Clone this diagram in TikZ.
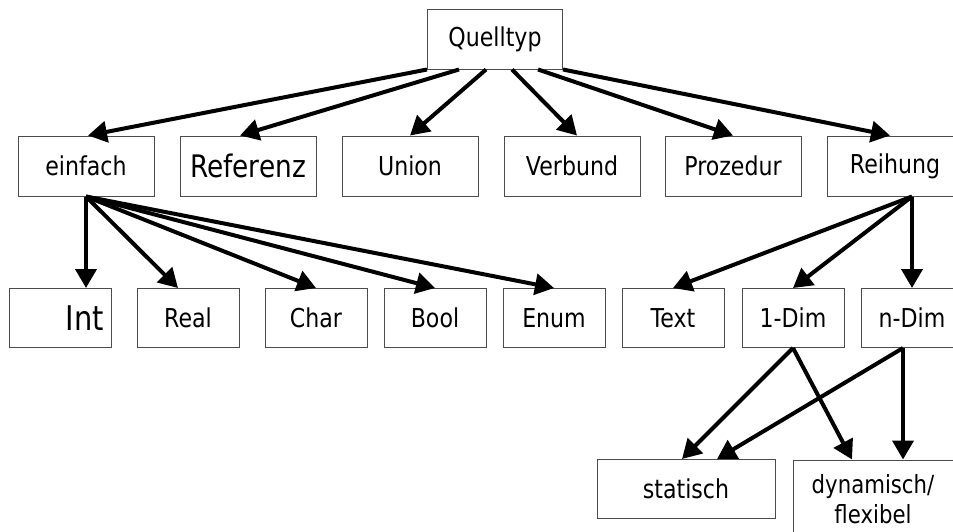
\documentclass[tikz,border=0pt]{standalone}
\usepackage{fontspec}
\setmainfont{DejaVu Sans}[FakeStretch=0.85]
\usetikzlibrary{arrows.meta}

\begin{document}
\begin{tikzpicture}[x=1pt,y=-1pt,
    box/.style={draw=black!70,line width=1pt,minimum width=136pt,minimum height=60pt,
      inner sep=0pt,font=\fontsize{26}{30}\selectfont},
    klein/.style={box,minimum width=102pt,minimum height=59pt},
    pfeil/.style={line width=4pt,-{Triangle[length=19pt,width=21pt]}}]
  \useasboundingbox (0,0) rectangle (953,531);
  \node [box,minimum width=135pt] (quell) at (495,39) {Quelltyp};
  \node [box] (einfach) at (86,166) {einfach};
  \node [box,font=\fontsize{31}{34}\selectfont] (referenz) at (248,166) {Referenz};
  \node [box] (union) at (410,166) {Union};
  \node [box] (verbund) at (572,166) {Verbund};
  \node [box] (prozedur) at (733,166) {Prozedur};
  \node [box] (reihung) at (895,166) {Reihung};
  \node [klein,font=\fontsize{34}{38}\selectfont,text width=88pt,align=right] (int) at (60,318) {Int};
  \node [klein] (real) at (188,318) {Real};
  \node [klein] (char) at (316,318) {Char};
  \node [klein] (bool) at (435,318) {Bool};
  \node [klein] (enum) at (554,318) {Enum};
  \node [klein] (text) at (673,318) {Text};
  \node [klein] (eindim) at (793,318) {1-Dim};
  \node [klein] (ndim) at (912,318) {n-Dim};
  \node [box,minimum width=178pt,minimum height=59pt] (statisch) at (686,489) {statisch};
  \node [box,minimum width=160pt,minimum height=78pt,align=center,
    font=\fontsize{25}{30}\selectfont] (dynamisch) at (873,499) {dynamisch/\\flexibel};
  \coordinate (rs) at (ndim.north |- reihung.south);
  \coordinate (ns) at ([xshift=-9]ndim.south);
  \draw [pfeil] (quell.south west) -- ([xshift=2]einfach.north);
  \draw [pfeil] ([xshift=-36]quell.south) -- ([xshift=-8]referenz.north);
  \draw [pfeil] ([xshift=-9]quell.south) -- (union.north);
  \draw [pfeil] ([xshift=17]quell.south) -- ([xshift=5]verbund.north);
  \draw [pfeil] ([xshift=43]quell.south) -- (prozedur.north);
  \draw [pfeil] (quell.south east) -- ([xshift=-5]reihung.north);
  \draw [pfeil] (einfach.south) -- (einfach.south |- int.north);
  \draw [pfeil] (einfach.south) -- ([xshift=-10]real.north);
  \draw [pfeil] (einfach.south) -- (char.north);
  \draw [pfeil] (einfach.south) -- (bool.north);
  \draw [pfeil] (einfach.south) -- (enum.north);
  \draw [pfeil] (rs) -- (text.north);
  \draw [pfeil] (rs) -- (eindim.north);
  \draw [pfeil] (rs) -- (ndim.north);
  \draw [pfeil] (eindim.south) -- ([xshift=-4]statisch.north);
  \draw [pfeil] (eindim.south) -- ([xshift=-21]dynamisch.north);
  \draw [pfeil] (ns) -- ([xshift=31]statisch.north);
  \draw [pfeil] (ns) -- (ns |- dynamisch.north);
\end{tikzpicture}
\end{document}
